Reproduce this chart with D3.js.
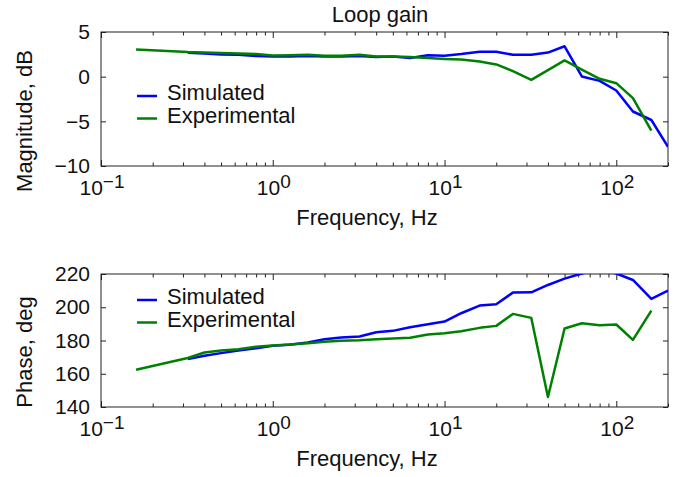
<!DOCTYPE html>
<html>
<head>
<meta charset="utf-8">
<script src="https://cdn.jsdelivr.net/npm/d3@7"></script>
<style>
  body { margin: 0; background: #fff; }
  svg { font-family: "Liberation Sans", Arial, sans-serif; }
  .axis path, .axis line { stroke: #222; }
  .axis text { font-size: 21px; fill: #111; }
</style>
</head>
<body>
<svg id="chart" width="677" height="477"></svg>
<script>
// frequencies (Hz) and measured / simulated loop gain
var freqSim = [0.32, 0.4, 0.5, 0.63, 0.8, 1, 1.25, 1.6, 2, 2.5, 3.2, 4, 5, 6.3, 8, 10,
               12.5, 16, 20, 25, 32, 40, 50, 63, 80, 100, 125, 160, 200];
var freqExp = [0.16, 0.32, 0.4, 0.5, 0.63, 0.8, 1, 1.25, 1.6, 2, 2.5, 3.2, 4, 5, 6.3, 8, 10,
               12.5, 16, 20, 25, 32, 40, 50, 63, 80, 100, 125, 160];

var magSim = [2.68, 2.6, 2.49, 2.45, 2.3, 2.27, 2.27, 2.3, 2.27, 2.27, 2.3, 2.2, 2.27, 2.1, 2.4, 2.34,
              2.53, 2.8, 2.8, 2.45, 2.45, 2.7, 3.4, 0.02, -0.47, -1.55, -3.9, -4.85, -7.85];
var magExp = [3.05, 2.75, 2.7, 2.64, 2.6, 2.53, 2.38, 2.4, 2.45, 2.35, 2.33, 2.45, 2.27, 2.27, 2.2, 2.08, 1.97,
              1.93, 1.7, 1.37, 0.62, -0.36, 0.73, 1.82, 0.8, -0.24, -0.73, -2.4, -6.05];

var phaseSim = [168.8, 170.8, 172.4, 174, 175.4, 176.8, 177.4, 178.8, 180.8, 181.8, 182.4, 185, 185.8, 188, 189.8, 191.4,
                196.4, 201, 201.8, 208.8, 209, 213.4, 217.2, 220.3, 223, 220.3, 216.4, 205, 210];
var phaseExp = [162.4, 169.5, 172.8, 174, 174.8, 176.2, 177, 177.6, 178.4, 179.2, 179.8, 180.2, 180.8, 181.2, 181.6, 183.6, 184.4,
                185.6, 187.6, 188.8, 196, 193.6, 146, 187.2, 190.4, 189.2, 189.6, 180.4, 198];

var xTicks = [0.1, 1, 10, 100];
var xTickExp = ["\u22121", "0", "1", "2"];
var magTicks = [5, 0, -5, -10];
var phaseTicks = [140, 160, 180, 200, 220];
var seriesNames = ["Simulated", "Experimental"];
var seriesColors = ["#0000ff", "#008000"];

(function () {
  var svg = d3.select("#chart");
  var left = 101, right = 668;

  var x = d3.scaleLog().domain([0.1, 200]).range([left, right]);

  // minor ticks 2..9 in each decade
  var minor = [];
  [0.1, 1, 10, 100].forEach(function(dec) {
    for (var m = 2; m <= 9; m++) {
      if (dec * m <= 200) minor.push(dec * m);
    }
  });

  var defs = svg.append("defs");

  function panel(opt) {
    var y = d3.scaleLinear().domain(opt.domain).range([opt.bottom, opt.top]);
    var g = svg.append("g");

    defs.append("clipPath").attr("id", opt.id)
      .append("rect")
      .attr("x", left).attr("y", opt.top)
      .attr("width", right - left).attr("height", opt.bottom - opt.top);

    // box
    g.append("rect")
      .attr("x", left).attr("y", opt.top)
      .attr("width", right - left).attr("height", opt.bottom - opt.top)
      .attr("fill", "none").attr("stroke", "#222").attr("stroke-width", 1);

    // x ticks, inward, bottom and top
    [["bottom", opt.bottom, -6, -3.5], ["top", opt.top, -6, -3.5]].forEach(function(s) {
      var mk = s[0] === "bottom" ? d3.axisBottom : d3.axisTop;
      g.append("g").attr("class", "axis")
        .attr("transform", "translate(0," + s[1] + ")")
        .call(mk(x).tickValues(xTicks).tickSize(s[2]).tickFormat(""))
        .call(function(a) { a.select(".domain").remove(); });
      g.append("g").attr("class", "axis")
        .attr("transform", "translate(0," + s[1] + ")")
        .call(mk(x).tickValues(minor).tickSize(s[3]).tickFormat(""))
        .call(function(a) { a.select(".domain").remove(); });
    });

    // y ticks, left with labels and right mirrored
    g.append("g").attr("class", "axis")
      .attr("transform", "translate(" + left + ",0)")
      .call(d3.axisLeft(y).tickValues(opt.ticks).tickSize(-5).tickPadding(11))
      .call(function(a) { a.select(".domain").remove(); });
    g.append("g").attr("class", "axis")
      .attr("transform", "translate(" + right + ",0)")
      .call(d3.axisRight(y).tickValues(opt.ticks).tickSize(-5).tickFormat(""))
      .call(function(a) { a.select(".domain").remove(); });

    // x tick labels 10^n
    xTicks.forEach(function(t, i) {
      var lab = g.append("text")
        .attr("x", x(t) + 1).attr("y", opt.bottom + 29)
        .attr("text-anchor", "middle")
        .style("font-size", "21px").attr("fill", "#111");
      lab.append("tspan").text("10");
      lab.append("tspan").attr("dy", -7).style("font-size", "19px").text(xTickExp[i]);
    });

    // x label
    g.append("text")
      .attr("x", 367).attr("y", opt.bottom + 59)
      .attr("text-anchor", "middle")
      .style("font-size", "22px").attr("fill", "#111")
      .text("Frequency, Hz");

    // y label
    g.append("text")
      .attr("transform", "translate(32," + opt.ylabelY + ") rotate(-90)")
      .attr("text-anchor", "middle")
      .style("font-size", "22px").attr("fill", "#111")
      .text(opt.ylabel);

    var line = d3.line()
      .x(function(d) { return x(d[0]); })
      .y(function(d) { return y(d[1]); });

    var plot = g.append("g").attr("clip-path", "url(#" + opt.id + ")");
    opt.series.forEach(function(s, i) {
      plot.append("path")
        .datum(d3.zip(s[0], s[1]))
        .attr("fill", "none")
        .attr("stroke", seriesColors[i])
        .attr("stroke-width", 2.5)
        .attr("stroke-linejoin", "round")
        .attr("d", line);
    });

    // legend
    seriesNames.forEach(function(name, i) {
      var ly = opt.legendY + i * 22.5;
      g.append("line")
        .attr("x1", 137).attr("x2", 157)
        .attr("y1", ly).attr("y2", ly)
        .attr("stroke", seriesColors[i]).attr("stroke-width", 2.5);
      g.append("text")
        .attr("x", 167).attr("y", ly + 4 + 0)
        .style("font-size", "22px").attr("fill", "#111")
        .text(name);
    });

    return g;
  }

  panel({
    id: "clipMag", top: 32, bottom: 166, domain: [-10, 5], ticks: magTicks,
    ylabel: "Magnitude, dB", ylabelY: 121, legendY: 96,
    series: [[freqSim, magSim], [freqExp, magExp]]
  });

  panel({
    id: "clipPhase", top: 274, bottom: 407, domain: [140, 220], ticks: phaseTicks,
    ylabel: "Phase, deg", ylabelY: 352, legendY: 300,
    series: [[freqSim, phaseSim], [freqExp, phaseExp]]
  });

  svg.append("text")
    .attr("x", 380).attr("y", 22)
    .attr("text-anchor", "middle")
    .style("font-size", "22px").attr("fill", "#111")
    .text("Loop gain");
}());
</script>
</body>
</html>
